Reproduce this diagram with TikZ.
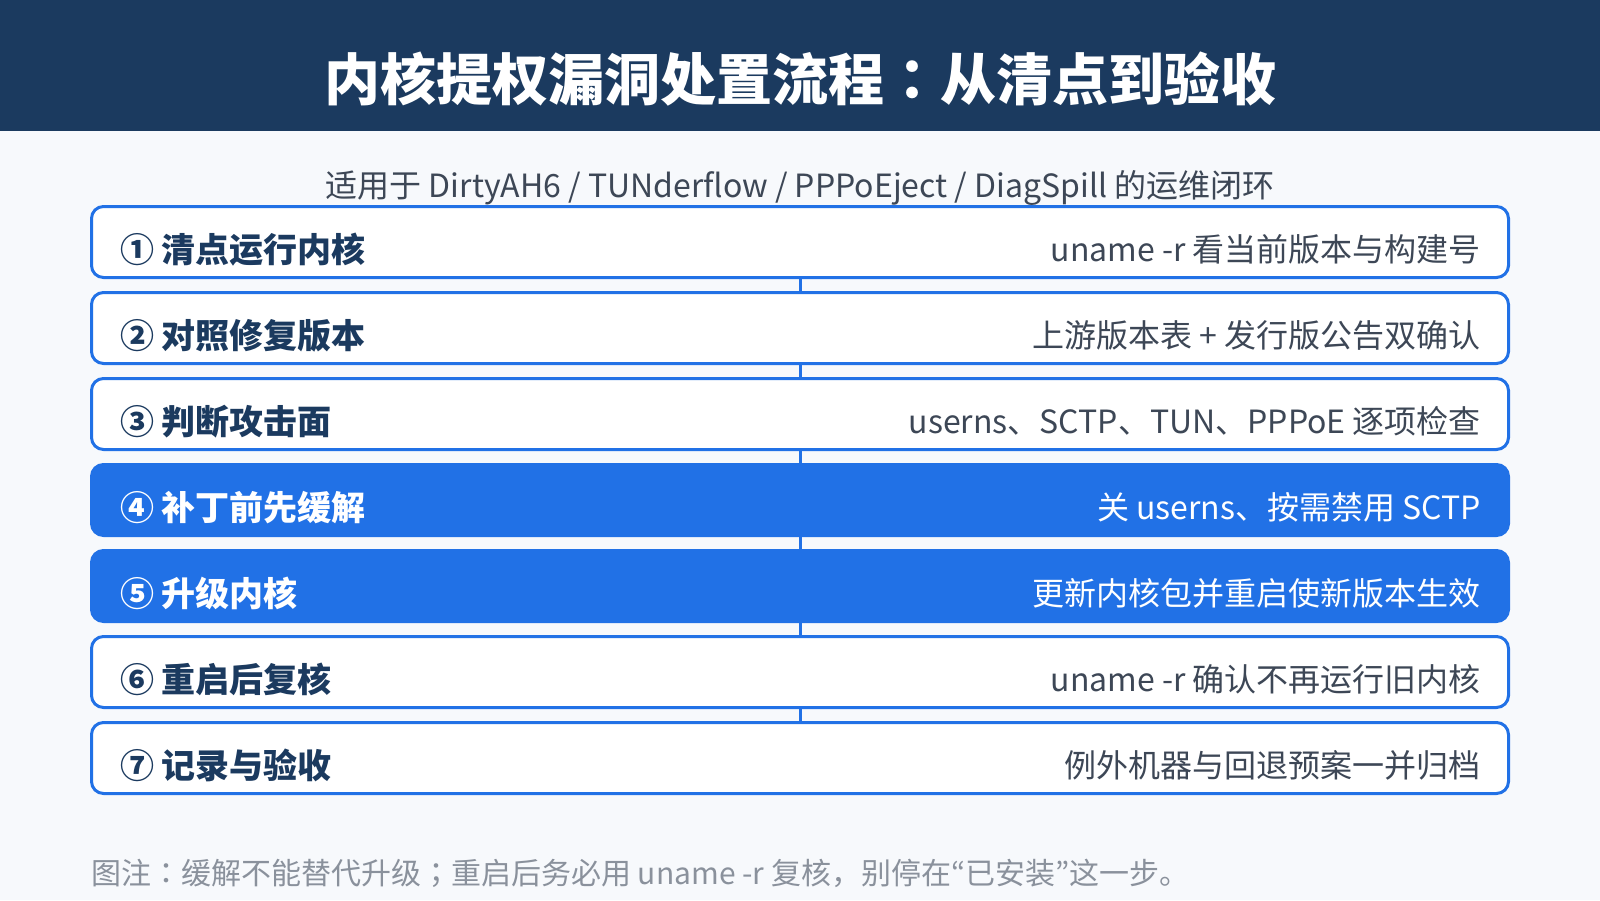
\documentclass[tikz,border=0pt]{standalone}
\usepackage{fontspec}
\setmainfont{Noto Sans CJK SC}
\newfontfamily\jpfont{Noto Sans CJK JP}
\definecolor{bgc}{HTML}{F7F9FC}
\definecolor{navy}{HTML}{1B3A5F}
\definecolor{blu}{HTML}{2171E6}
\definecolor{txtgray}{HTML}{3D4756}
\definecolor{notegray}{HTML}{8A919C}
\tikzset{
  stepbox/.style={draw=blu, line width=3pt, rounded corners=12pt, fill=white,
    minimum width=1417pt, minimum height=71pt, inner sep=0pt},
  stepfill/.style={stepbox, fill=blu},
  steplabel/.style={anchor=base west, inner sep=0pt, text=navy,
    font=\fontsize{34}{37}\selectfont\bfseries},
  stepnote/.style={anchor=base east, inner sep=0pt, text=txtgray,
    font=\fontsize{32}{35}\selectfont},
  whitetext/.style={text=white},
  link/.style={draw=blu, line width=3pt},
}
\begin{document}
\begin{tikzpicture}[x=1pt,y=-1pt]
\useasboundingbox (0,0) rectangle (1600,900);
\fill[bgc] (0,0) rectangle (1600,900);
\fill[navy] (0,0) rectangle (1600,131);
\node[anchor=base, inner sep=0pt, text=white, font=\fontsize{56}{60}\selectfont\bfseries] (title) at (800,100) {内核提权漏洞处置流程{\jpfont\bfseries ：}从清点到验收};
\node[anchor=base, inner sep=0pt, text=txtgray, font=\fontsize{32}{35}\selectfont] (sub) at (800,197) {适用于 DirtyAH6 / TUNderflow / PPPoEject / DiagSpill 的运维闭环};
% boxes
\node[stepbox] (b1) at (800,242) {};
\node[stepbox] (b2) at (800,328) {};
\node[stepbox] (b3) at (800,414) {};
\node[stepfill] (b4) at (800,500) {};
\node[stepfill] (b5) at (800,586) {};
\node[stepbox] (b6) at (800,672) {};
\node[stepbox] (b7) at (800,758) {};
% connectors
\draw[link] (b1.south) -- (b2.north);
\draw[link] (b2.south) -- (b3.north);
\draw[link] (b3.south) -- (b4.north);
\draw[link] (b4.south) -- (b5.north);
\draw[link] (b5.south) -- (b6.north);
\draw[link] (b6.south) -- (b7.north);
% labels
\node[steplabel] (l1) at (120,262) {① 清点运行内核};
\node[steplabel] (l2) at (120,348) {② 对照修复版本};
\node[steplabel] (l3) at (120,434) {③ 判断攻击面};
\node[steplabel, whitetext] (l4) at (120,520) {④ 补丁前先缓解};
\node[steplabel, whitetext] (l5) at (120,606) {⑤ 升级内核};
\node[steplabel] (l6) at (120,692) {⑥ 重启后复核};
\node[steplabel] (l7) at (120,778) {⑦ 记录与验收};
% notes
\node[stepnote] (n1) at (1481,261) {uname -r 看当前版本与构建号};
\node[stepnote] (n2) at (1481,347) {上游版本表 + 发行版公告双确认};
\node[stepnote] (n3) at (1481,433) {userns、SCTP、TUN、PPPoE 逐项检查};
\node[stepnote, whitetext] (n4) at (1481,519) {关 userns、按需禁用 SCTP};
\node[stepnote, whitetext] (n5) at (1481,605) {更新内核包并重启使新版本生效};
\node[stepnote] (n6) at (1481,691) {uname -r 确认不再运行旧内核};
\node[stepnote] (n7) at (1481,777) {例外机器与回退预案一并归档};
% footnote
\node[anchor=base west, inner sep=0pt, text=notegray, font=\fontsize{30}{32}\selectfont] (foot) at (91,884) {图注{\jpfont ：}缓解不能替代升级{\jpfont ；}重启后务必用 uname -r 复核，别停在{\jpfont “}已安装{\jpfont ”}这一步。};
\end{tikzpicture}
\end{document}
